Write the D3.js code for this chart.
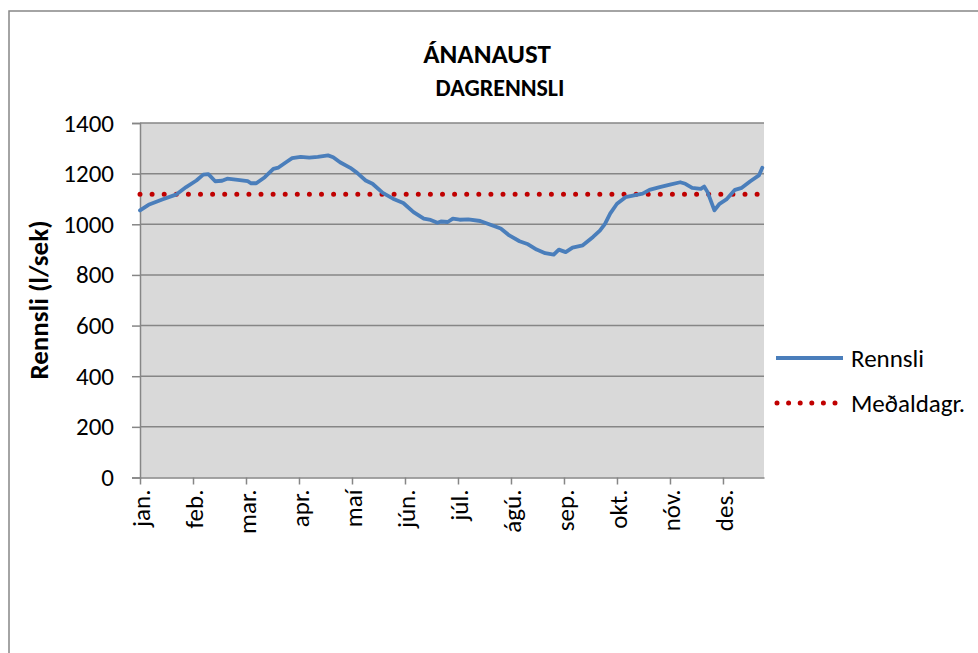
<!DOCTYPE html>
<html>
<head>
<meta charset="utf-8">
<script src="https://cdn.jsdelivr.net/npm/d3@7"></script>
<style>
  body { margin: 0; background: #fff; }
  svg { display: block; }
  text { font-family: Carlito, Calibri, Lato, "Open Sans", sans-serif; fill: #000; }
</style>
</head>
<body>
<svg id="chart" width="978" height="653"></svg>
<script>
// ---- data ----
const monthLabels = ["jan.", "feb.", "mar.", "apr.", "maí", "jún.", "júl.", "ágú.", "sep.", "okt.", "nóv.", "des."];
const days = [0, 5, 13, 21, 27, 33, 37, 40, 44, 48, 51, 56, 63, 65, 68, 73, 78, 81, 85, 89,
  94, 99, 104, 110, 113, 117, 123, 127, 132, 136, 142, 148, 154, 160, 166, 170, 174, 176, 180,
  183, 187, 192, 199, 205, 211, 216, 222, 227, 232, 237, 242, 245, 249, 253, 259, 265, 269,
  272, 275, 279, 284, 289, 294, 298, 304, 310, 316, 319, 323, 328, 330, 332, 336, 339, 343,
  348, 352, 357, 362, 364];
const rennsli = [1055, 1077, 1098, 1117, 1147, 1173, 1196, 1198, 1170, 1172, 1180, 1176, 1170, 1162, 1162, 1186, 1219, 1224, 1243, 1261,
  1266, 1263, 1266, 1272, 1265, 1245, 1223, 1203, 1173, 1160, 1124, 1101, 1084, 1048, 1022, 1017, 1006, 1011, 1009,
  1022, 1018, 1019, 1013, 998, 983, 956, 933, 921, 900, 886, 880, 900, 890, 908, 917, 950, 975,
  1002, 1042, 1081, 1107, 1114, 1121, 1136, 1147, 1157, 1166, 1160, 1144, 1140, 1149, 1127, 1055, 1081, 1098,
  1136, 1144, 1170, 1193, 1223];
const medaldagr = 1119;
const yTicks = [0, 200, 400, 600, 800, 1000, 1200, 1400];
const seriesNames = ["Rennsli", "Meðaldagr."];
const daysInYear = 365;
const tickEvery = 31;

// ---- layout ----
const FONT = "Carlito, Calibri, Lato, sans-serif";
const svg = d3.select("#chart");
const plot = { left: 140, right: 764, top: 123, bottom: 477.5 };

// outer border
svg.append("rect")
  .attr("x", 9).attr("y", 11).attr("width", 980).attr("height", 660)
  .attr("fill", "#fff").attr("stroke", "#878787").attr("stroke-width", 1.5);

const x = d3.scaleLinear().domain([0, daysInYear]).range([plot.left, plot.right]);
const y = d3.scaleLinear().domain([0, 1400]).range([plot.bottom, plot.top]);

// plot background
svg.append("rect")
  .attr("x", plot.left).attr("y", plot.top)
  .attr("width", plot.right - plot.left).attr("height", plot.bottom - plot.top)
  .attr("fill", "#d9d9d9");

// gridlines
svg.append("g").selectAll("line").data(yTicks.filter(d => d > 0)).join("line")
  .attr("x1", plot.left).attr("x2", plot.right)
  .attr("y1", d => y(d)).attr("y2", d => y(d))
  .attr("stroke", "#868686").attr("stroke-width", 1.5);

// y axis
const yAxis = svg.append("g").attr("transform", `translate(${plot.left},0)`)
  .call(d3.axisLeft(y).tickValues(yTicks).tickFormat(d3.format("d")).tickSize(8).tickPadding(18));
yAxis.select(".domain").attr("stroke", "#868686").attr("stroke-width", 1.5);
yAxis.selectAll(".tick line").attr("stroke", "#868686").attr("stroke-width", 1.5);
yAxis.selectAll(".tick text").attr("font-size", 25).style("font-family", FONT);

// x axis
const xTickVals = monthLabels.map((m, i) => i * tickEvery);
const xAxis = svg.append("g").attr("transform", `translate(0,${plot.bottom})`)
  .call(d3.axisBottom(x).tickValues(xTickVals).tickFormat((d, i) => monthLabels[i]).tickSize(7).tickSizeOuter(0));
xAxis.select(".domain").attr("stroke", "#868686").attr("stroke-width", 1.5);
xAxis.selectAll(".tick line").attr("stroke", "#868686").attr("stroke-width", 1.5);
xAxis.selectAll(".tick text")
  .attr("font-size", 25).style("font-family", FONT)
  .attr("text-anchor", "end")
  .attr("transform", "rotate(-90)")
  .attr("x", -12).attr("y", 0).attr("dy", "0.38em");

// mean line (dotted)
svg.append("line")
  .attr("x1", x(0)).attr("x2", x(daysInYear))
  .attr("y1", y(medaldagr)).attr("y2", y(medaldagr))
  .attr("stroke", "#c00000").attr("stroke-width", 5)
  .attr("stroke-linecap", "round").attr("stroke-dasharray", "0 12.1");

// flow line
const pts = days.map((d, i) => [d, rennsli[i]]);
svg.append("path").datum(pts)
  .attr("fill", "none").attr("stroke", "#4a7ebb").attr("stroke-width", 3.8)
  .attr("stroke-linejoin", "round").attr("stroke-linecap", "round")
  .attr("d", d3.line().x(d => x(d[0])).y(d => y(d[1])));

// titles
svg.append("text").attr("x", 487).attr("y", 63).attr("text-anchor", "middle")
  .attr("font-size", 27).attr("font-weight", "bold").text("ÁNANAUST");
svg.append("text").attr("x", 500).attr("y", 96).attr("text-anchor", "middle")
  .attr("font-size", 24).attr("font-weight", "bold").text("DAGRENNSLI");

// y label
svg.append("text").attr("transform", "translate(39,300) rotate(-90)")
  .attr("text-anchor", "middle").attr("dy", "0.35em").attr("font-size", 27).attr("font-weight", "bold")
  .text("Rennsli (l/sek)");

// legend
const leg = svg.append("g");
seriesNames.forEach((name, i) => {
  const ly = 358 + i * 45;
  const ln = leg.append("line").attr("x1", 776).attr("x2", 843).attr("y1", ly).attr("y2", ly);
  if (i === 0) {
    ln.attr("stroke", "#4a7ebb").attr("stroke-width", 3.8);
  } else {
    ln.attr("stroke", "#c00000").attr("stroke-width", 5).attr("stroke-linecap", "round")
      .attr("stroke-dasharray", "0 11.6").attr("x1", 777).attr("x2", 841);
  }
  leg.append("text").attr("x", 851).attr("y", ly).attr("dy", "0.35em")
    .attr("font-size", 25).text(name);
});
</script>
</body>
</html>
